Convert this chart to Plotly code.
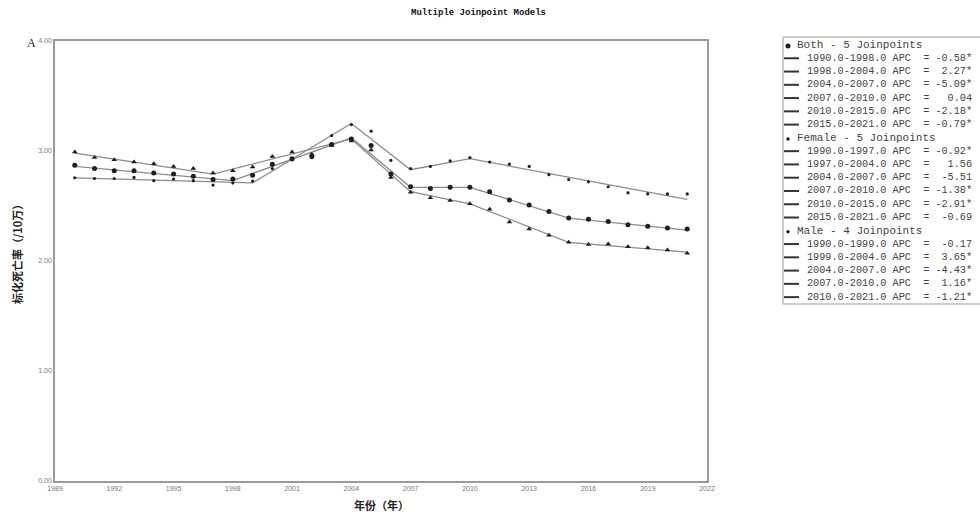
import plotly.graph_objects as go

# ---------------- data ----------------
years = list(range(1990, 2022))

both_obs = [2.87, 2.84, 2.82, 2.82, 2.80, 2.79, 2.77, 2.74, 2.745, 2.78,
            2.88, 2.93, 2.95, 3.06, 3.11, 3.05, 2.79, 2.675, 2.66, 2.67,
            2.67, 2.63, 2.555, 2.51, 2.45, 2.39, 2.38, 2.36, 2.33, 2.315,
            2.30, 2.29]
female_obs = [2.99, 2.94, 2.92, 2.90, 2.885, 2.86, 2.84, 2.80, 2.82, 2.855,
              2.95, 2.99, 2.97, 3.05, 3.09, 3.01, 2.76, 2.625, 2.575, 2.55,
              2.52, 2.47, 2.355, 2.29, 2.235, 2.17, 2.15, 2.155, 2.13, 2.12,
              2.10, 2.07]
male_obs = [2.757, 2.75, 2.75, 2.76, 2.73, 2.745, 2.73, 2.69, 2.71, 2.727,
            2.84, 2.92, 2.94, 3.14, 3.24, 3.18, 2.915, 2.84, 2.86, 2.91,
            2.94, 2.90, 2.88, 2.86, 2.785, 2.74, 2.72, 2.675, 2.62, 2.61,
            2.61, 2.61]

both_fit_years = [1990, 1998, 2004, 2007, 2010, 2015, 2021]
both_fit = [2.86, 2.73, 3.12, 2.67, 2.67, 2.39, 2.28]
female_fit_years = [1990, 1997, 2004, 2007, 2010, 2015, 2021]
female_fit = [2.98, 2.79, 3.11, 2.63, 2.52, 2.17, 2.08]
male_fit_years = [1990, 1999, 2004, 2007, 2010, 2021]
male_fit = [2.755, 2.71, 3.25, 2.83, 2.93, 2.56]

x_ticks = list(range(1989, 2023, 3))
y_ticks = [0, 1, 2, 3, 4]
y_tick_labels = ["0.00", "1.00", "2.00", "3.00", "4.00"]

legend_groups = [
    ("Both - 5 Joinpoints",
     ["1990.0-1998.0", "1998.0-2004.0", "2004.0-2007.0", "2007.0-2010.0", "2010.0-2015.0", "2015.0-2021.0"],
     ["-0.58*", "2.27*", "-5.09*", "0.04", "-2.18*", "-0.79*"]),
    ("Female - 5 Joinpoints",
     ["1990.0-1997.0", "1997.0-2004.0", "2004.0-2007.0", "2007.0-2010.0", "2010.0-2015.0", "2015.0-2021.0"],
     ["-0.92*", "1.56", "-5.51", "-1.38*", "-2.91*", "-0.69"]),
    ("Male - 4 Joinpoints",
     ["1990.0-1999.0", "1999.0-2004.0", "2004.0-2007.0", "2007.0-2010.0", "2010.0-2021.0"],
     ["-0.17", "3.65*", "-4.43*", "1.16*", "-1.21*"]),
]

# ---------------- figure ----------------
W, H = 980, 513
L, R, T, B = 55, 707, 41, 481
LINE_C = "#8c8c8c"
MARK_C = "#1e1e1e"

fig = go.Figure()
for fy, fv in [(both_fit_years, both_fit), (female_fit_years, female_fit), (male_fit_years, male_fit)]:
    fig.add_trace(go.Scatter(x=fy, y=fv, mode="lines",
                             line=dict(color=LINE_C, width=1.3), showlegend=False, hoverinfo="skip"))

fig.add_trace(go.Scatter(x=years, y=both_obs, mode="markers",
                         marker=dict(symbol="circle", size=5, color=MARK_C), showlegend=False))
fig.add_trace(go.Scatter(x=years, y=female_obs, mode="markers",
                         marker=dict(symbol="triangle-up", size=5, color=MARK_C), showlegend=False))
fig.add_trace(go.Scatter(x=years, y=male_obs, mode="markers",
                         marker=dict(symbol="circle", size=3.2, color=MARK_C), showlegend=False))

def px2paper(px, py):
    return (px - L) / (R - L), (B - py) / (B - T)

annotations = []
shapes = []

# title
tx, ty = px2paper(478, 13)
annotations.append(dict(text="<b>Multiple Joinpoint Models</b>", x=tx, y=ty, xref="paper", yref="paper",
                        showarrow=False, xanchor="center", yanchor="middle",
                        font=dict(family="Liberation Mono", size=9, color="#111")))
# panel letter
ax_, ay_ = px2paper(31, 43)
annotations.append(dict(text="A", x=ax_, y=ay_, xref="paper", yref="paper", showarrow=False,
                        xanchor="center", yanchor="middle",
                        font=dict(family="Liberation Serif", size=12, color="#222")))
# axis titles
yx, yy = px2paper(17, 252)
annotations.append(dict(text="<b>标化死亡率（/10万）</b>", x=yx, y=yy, xref="paper", yref="paper",
                        showarrow=False, textangle=-90, xanchor="center", yanchor="middle",
                        font=dict(family="Noto Sans CJK SC", size=11, color="#222")))
xx, xy = px2paper(381, 505)
annotations.append(dict(text="<b>年份（年）</b>", x=xx, y=xy, xref="paper", yref="paper",
                        showarrow=False, xanchor="center", yanchor="middle",
                        font=dict(family="Noto Sans CJK SC", size=11, color="#222")))

# legend box
bx0, by0 = px2paper(783, 304)
bx1, by1 = px2paper(982, 37)
shapes.append(dict(type="rect", xref="paper", yref="paper", x0=bx0, y0=by0, x1=bx1, y1=by1,
                   line=dict(color="#999", width=1), fillcolor="rgba(0,0,0,0)"))

row_y = 45.0
row_h = 13.27
marker_sizes = [5, 3.5, 3.5]
for gi, (header, segs, apcs) in enumerate(legend_groups):
    s = marker_sizes[gi]
    shapes.append(dict(type="circle", xref="paper", yref="paper",
                       x0=(788 - s / 2 - L) / (R - L), x1=(788 + s / 2 - L) / (R - L),
                       y0=(B - row_y - 1 - s / 2) / (B - T), y1=(B - row_y - 1 + s / 2) / (B - T),
                       fillcolor=MARK_C, line=dict(width=0)))
    tx_, ty_ = px2paper(795, row_y)
    annotations.append(dict(text=header, x=tx_, y=ty_, xref="paper", yref="paper", showarrow=False,
                            xanchor="left", yanchor="middle",
                            font=dict(family="Liberation Mono", size=11, color="#444")))
    row_y += row_h
    for seg, apc in zip(segs, apcs):
        lx0, ly = px2paper(784, row_y)
        lx1, _ = px2paper(799, row_y)
        shapes.append(dict(type="line", xref="paper", yref="paper", x0=lx0, x1=lx1, y0=ly, y1=ly,
                           line=dict(color="#333", width=2)))
        label = f"{seg} APC  = {apc:>6}".replace(" ", "\u00a0")
        tx_, ty_ = px2paper(805, row_y)
        annotations.append(dict(text=label, x=tx_, y=ty_, xref="paper", yref="paper", showarrow=False,
                                xanchor="left", yanchor="middle",
                                font=dict(family="Liberation Mono", size=10.2, color="#444")))
        row_y += row_h

fig.update_layout(
    width=W, height=H,
    margin=dict(l=L, r=W - R, t=T, b=H - B, pad=0, autoexpand=False),
    paper_bgcolor="white", plot_bgcolor="white",
    annotations=annotations, shapes=shapes,
    xaxis=dict(range=[1989, 2022], tickvals=x_ticks, ticktext=[str(v) for v in x_ticks],
               automargin=False,
               showgrid=False, zeroline=False, showline=True, mirror=True,
               linecolor="#9a9a9a", linewidth=1.5, ticks="", ticklen=0,
               tickfont=dict(family="Liberation Sans Narrow, Liberation Sans", size=7, color="#777")),
    yaxis=dict(range=[0, 4], tickvals=y_ticks, ticktext=y_tick_labels,
               automargin=False,
               showgrid=False, zeroline=False, showline=True, mirror=True,
               linecolor="#9a9a9a", linewidth=1.5, ticks="", ticklen=0,
               tickfont=dict(family="Liberation Sans Narrow, Liberation Sans", size=7, color="#777")),
    showlegend=False,
)

fig.write_html("out.html", config={"displayModeBar": False},
               post_script="document.body.style.margin='0';document.body.style.overflow='hidden';")
